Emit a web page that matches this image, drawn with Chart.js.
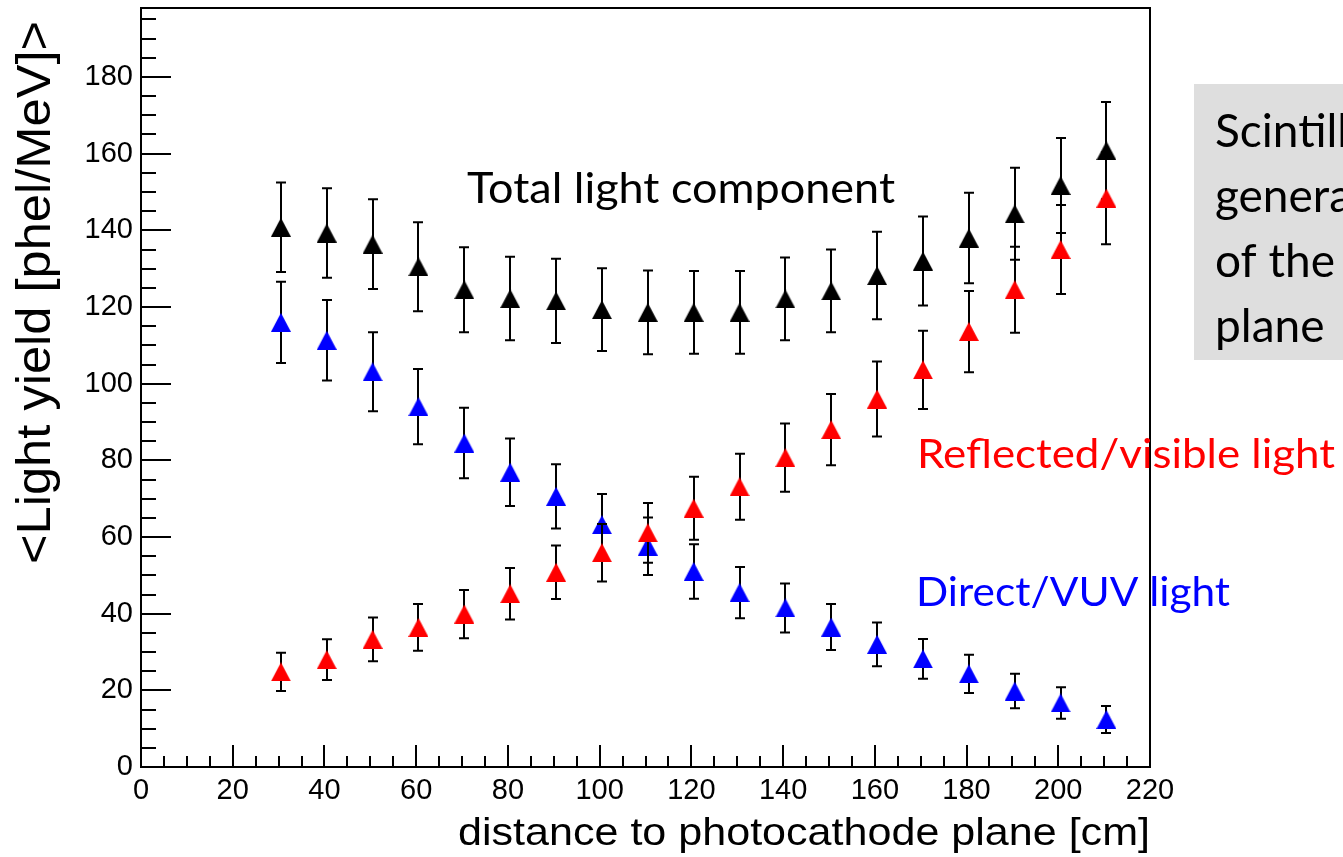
<!DOCTYPE html>
<html>
<head>
<meta charset="utf-8">
<script src="https://cdn.jsdelivr.net/npm/chart.js@4.4.1/dist/chart.umd.min.js"></script>
<style>
  body { margin: 0; background: #fff; }
  #wrap { width: 1343px; height: 857px; position: relative; }
</style>
</head>
<body>
<div id="wrap"><canvas id="chart"></canvas></div>
<script>
// distance to photocathode plane [cm]
const distance = [30.5, 40.5, 50.5, 60.5, 70.5, 80.5, 90.5, 100.5, 110.5, 120.5,
                  130.5, 140.5, 150.5, 160.5, 170.5, 180.5, 190.5, 200.5, 210.5];

// total light component
const total = [140.8, 139.3, 136.4, 130.5, 124.5, 122.2, 121.6, 119.3, 118.6, 118.6,
               118.6, 122.1, 124.2, 128.2, 132.0, 138.0, 144.3, 151.7, 160.8];
const totalErr = [11.7, 11.7, 11.7, 11.6, 11.1, 10.9, 11.0, 10.8, 10.9, 10.8,
                  10.8, 10.8, 10.8, 11.4, 11.6, 11.8, 12.0, 12.4, 12.7];

// reflected / visible light
const reflected = [24.8, 28.0, 33.3, 36.4, 39.9, 45.2, 50.8, 55.9, 61.1, 67.5,
                   73.1, 80.7, 88.0, 96.0, 103.6, 113.6, 124.5, 135.0, 148.4];
const reflectedErr = [5.0, 5.3, 5.7, 6.1, 6.3, 6.7, 7.0, 7.5, 7.8, 8.2,
                      8.6, 8.9, 9.3, 9.8, 10.2, 10.6, 11.2, 11.6, 12.0];

// direct / VUV light
const direct = [116.0, 111.3, 103.1, 94.0, 84.5, 76.9, 70.6, 63.2, 57.6, 51.0,
                45.5, 41.5, 36.5, 32.0, 28.2, 24.3, 19.8, 16.7, 12.4];
const directErr = [10.6, 10.5, 10.3, 9.8, 9.2, 8.8, 8.4, 8.0, 7.5, 7.1,
                   6.7, 6.4, 6.0, 5.7, 5.2, 5.0, 4.5, 4.1, 3.5];

const xTicks = [0, 20, 40, 60, 80, 100, 120, 140, 160, 180, 200, 220];
const yTicks = [0, 20, 40, 60, 80, 100, 120, 140, 160, 180];

const AXIS_FONT = '"Liberation Sans", Arial, sans-serif';
const NOTE_FONT = 'Lato, "Open Sans", sans-serif';

// ROOT style triangle marker (as wide as it is tall)
function triangle(color) {
  const c = document.createElement('canvas');
  c.width = 20; c.height = 19;
  const g = c.getContext('2d');
  g.fillStyle = color;
  g.beginPath();
  g.moveTo(10, 0);
  g.lineTo(20, 19);
  g.lineTo(0, 19);
  g.closePath();
  g.fill();
  return c;
}

function points(ys) {
  return distance.map((d, i) => ({ x: d, y: ys[i] }));
}

const series = [
  { label: 'Reflected/visible light', data: points(reflected), err: reflectedErr, color: '#ff0000' },
  { label: 'Direct/VUV light', data: points(direct), err: directErr, color: '#0000ff' },
  { label: 'Total light component', data: points(total), err: totalErr, color: '#000000' }
];

// error bars are drawn just before each dataset's markers
const errorBars = {
  id: 'errorBars',
  beforeDatasetDraw(chart, args) {
    const s = series[args.index];
    const { x, y } = chart.scales;
    const ctx = chart.ctx;
    ctx.save();
    ctx.strokeStyle = '#000';
    ctx.lineWidth = 2;
    s.data.forEach((p, i) => {
      const px = Math.round(x.getPixelForValue(p.x));
      const top = y.getPixelForValue(p.y + s.err[i]);
      const bot = y.getPixelForValue(p.y - s.err[i]);
      ctx.beginPath();
      ctx.moveTo(px, top); ctx.lineTo(px, bot);
      ctx.moveTo(px - 5, top); ctx.lineTo(px + 5, top);
      ctx.moveTo(px - 5, bot); ctx.lineTo(px + 5, bot);
      ctx.stroke();
    });
    ctx.restore();
  }
};

function fitText(ctx, text, x, y, size, family, color, width, rotate) {
  ctx.save();
  ctx.font = size + 'px ' + family;
  ctx.fillStyle = color;
  ctx.textBaseline = 'alphabetic';
  ctx.textAlign = 'left';
  const w = ctx.measureText(text).width;
  const sx = width ? width / w : 1;
  ctx.translate(x, y);
  if (rotate) ctx.rotate(-Math.PI / 2);
  ctx.scale(sx, 1);
  ctx.fillText(text, 0, 0);
  ctx.restore();
}

// frame, inner ticks, axis titles and the annotations
const decorations = {
  id: 'decorations',
  afterDraw(chart) {
    const ctx = chart.ctx;
    const { left, right, top, bottom } = chart.chartArea;
    const { x, y } = chart.scales;
    ctx.save();
    ctx.strokeStyle = '#000';
    ctx.lineWidth = 2;
    ctx.strokeRect(left, top, right - left, bottom - top);
    ctx.beginPath();
    for (let v = 0; v < 220; v += 5) {
      const px = Math.round(x.getPixelForValue(v));
      const len = v % 20 === 0 ? 22 : 11;
      ctx.moveTo(px, bottom); ctx.lineTo(px, bottom - len);
    }
    for (let v = 0; v <= 195; v += 5) {
      const py = Math.round(y.getPixelForValue(v));
      const len = v % 20 === 0 ? 30 : 15;
      ctx.moveTo(left, py); ctx.lineTo(left + len, py);
    }
    ctx.stroke();
    ctx.restore();

    // axis titles
    fitText(ctx, 'distance to photocathode plane [cm]', 458, 845, 39, AXIS_FONT, '#000', 692);
    fitText(ctx, '<Light yield [phel/MeV]>', 50, 564, 48, AXIS_FONT, '#000', 543, true);

    // annotations
    fitText(ctx, 'Total light component', 467, 203, 43, NOTE_FONT, '#000', 428);
    fitText(ctx, 'Reflected/visible light', 917, 468, 40, NOTE_FONT, '#ff0000', 418);
    fitText(ctx, 'Direct/VUV light', 916, 606, 40, NOTE_FONT, '#0000ff', 314);

    ctx.save();
    ctx.fillStyle = '#dedede';
    ctx.fillRect(1194, 84, 160, 276);
    ctx.restore();
    const boxLines = ['Scintillation light', 'generated in front', 'of the cathode', 'plane'];
    const baselines = [147, 212, 277, 342];
    boxLines.forEach((t, i) => fitText(ctx, t, 1215, baselines[i], 46, NOTE_FONT, '#000'));
  }
};

new Chart(document.getElementById('chart'), {
  type: 'scatter',
  data: {
    datasets: series.map(s => ({
      label: s.label,
      data: s.data,
      pointStyle: triangle(s.color),
      backgroundColor: s.color,
      borderColor: s.color,
      showLine: false
    }))
  },
  options: {
    responsive: true,
    maintainAspectRatio: false,
    animation: false,
    events: [],
    layout: { padding: { top: 8, right: 193, left: 0, bottom: 0 } },
    plugins: { legend: { display: false }, tooltip: { enabled: false } },
    scales: {
      x: {
        type: 'linear', min: 0, max: 220,
        grid: { display: false, drawTicks: false },
        border: { display: false },
        afterBuildTicks: s => { s.ticks = xTicks.map(v => ({ value: v })); },
        afterFit: s => { s.height = 90; s.paddingLeft = 0; s.paddingRight = 0; },
        ticks: {
          autoSkip: false, maxRotation: 0, padding: 7, color: '#000',
          font: { family: AXIS_FONT, size: 29 }
        }
      },
      y: {
        type: 'linear', min: 0, max: 198,
        grid: { display: false, drawTicks: false },
        border: { display: false },
        afterBuildTicks: s => { s.ticks = yTicks.map(v => ({ value: v })); },
        afterFit: s => { s.width = 141; s.paddingTop = 0; s.paddingBottom = 0; },
        ticks: {
          autoSkip: false, padding: 8, color: '#000',
          font: { family: AXIS_FONT, size: 29 }
        }
      }
    }
  },
  plugins: [errorBars, decorations]
});
</script>
</body>
</html>
